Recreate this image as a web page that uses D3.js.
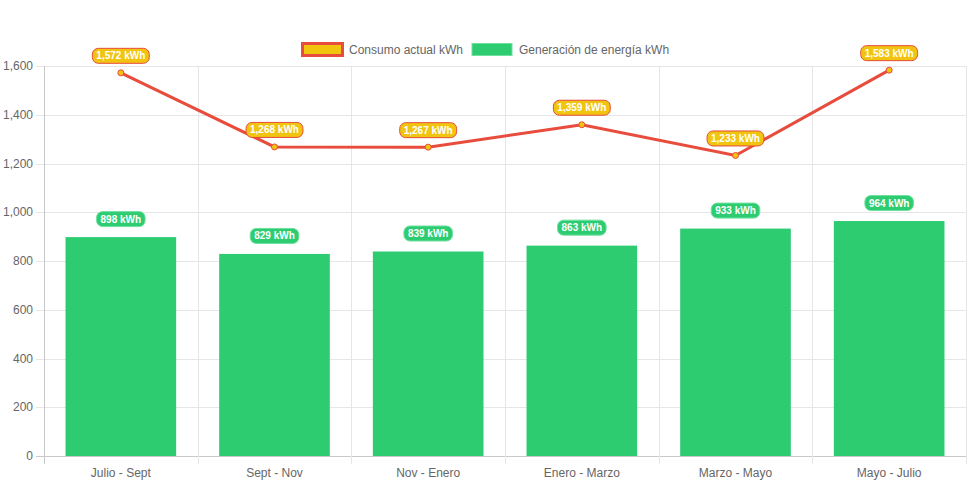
<!DOCTYPE html>
<html><head><meta charset="utf-8">
<script src="https://cdn.jsdelivr.net/npm/d3@7"></script>
<style>
html,body{margin:0;padding:0;background:#fff;}
svg{display:block;font-family:"Liberation Sans",Arial,Helvetica,sans-serif;}
</style></head>
<body>
<svg id="c" width="971" height="485"></svg>
<script>
const categories = ["Julio - Sept","Sept - Nov","Nov - Enero","Enero - Marzo","Marzo - Mayo","Mayo - Julio"];
const consumo = [1572,1268,1267,1359,1233,1583];
const generacion = [898,829,839,863,933,964];
const yTicks = [0,200,400,600,800,1000,1200,1400,1600];
const seriesNames = ["Consumo actual kWh","Generación de energía kWh"];

(function(){
const svg = d3.select("#c");
const pL = 44, pR = 966, pT = 66, pB = 456;
const x = d3.scaleBand().domain(categories).range([pL,pR]).paddingInner(0).paddingOuter(0);
const y = d3.scaleLinear().domain([0,1600]).range([pB,pT]);
const fmt = d3.format(",");

// grid
const g = svg.append("g");
g.selectAll("line.h").data(yTicks).join("line")
  .attr("x1",36).attr("x2",pR).attr("y1",d=>Math.round(y(d))+0.5).attr("y2",d=>Math.round(y(d))+0.5)
  .attr("stroke",d=>d===0?"#c8c8c8":"#e6e6e6").attr("stroke-width",1);
const bounds = categories.map(c=>x(c)).concat([pR]);
g.selectAll("line.v").data(bounds).join("line")
  .attr("x1",d=>Math.round(d)+0.5).attr("x2",d=>Math.round(d)+0.5)
  .attr("y1",pT).attr("y2",pB+8)
  .attr("stroke",(d,i)=>i===0?"#c8c8c8":"#e6e6e6").attr("stroke-width",1);

// y labels
g.selectAll("text.yl").data(yTicks).join("text")
  .attr("x",33).attr("y",d=>y(d)).attr("dy","0.35em").attr("text-anchor","end")
  .attr("font-size",12).attr("fill","#666").text(d=>fmt(d));
// x labels
g.selectAll("text.xl").data(categories).join("text")
  .attr("x",d=>x(d)+x.bandwidth()/2).attr("y",477).attr("text-anchor","middle")
  .attr("font-size",12).attr("fill","#666").text(d=>d);

// bars
const bw = x.bandwidth()*0.72;
svg.append("g").selectAll("rect").data(generacion).join("rect")
  .attr("x",(d,i)=>x(categories[i])+x.bandwidth()/2-bw/2)
  .attr("y",d=>y(d)).attr("width",bw).attr("height",d=>y(0)-y(d))
  .attr("fill","#2ecc71");

// line
const cx = i=>x(categories[i])+x.bandwidth()/2;
svg.append("path").datum(consumo)
  .attr("d",d3.line().x((d,i)=>cx(i)).y(d=>y(d)))
  .attr("fill","none").attr("stroke","#e74c3c").attr("stroke-width",3);
svg.append("g").selectAll("circle").data(consumo).join("circle")
  .attr("cx",(d,i)=>cx(i)).attr("cy",d=>y(d)).attr("r",3)
  .attr("fill","#f1c40f").attr("stroke","#e74c3c").attr("stroke-width",1);

// labels
function label(xc, yc, txt, bg, border){
  const lg = svg.append("g");
  const t = lg.append("text").attr("x",xc).attr("y",yc).attr("dy","0.35em")
    .attr("text-anchor","middle").attr("font-size",10).attr("font-weight","bold")
    .attr("fill","#fff").text(txt);
  const w = t.node().getComputedTextLength();
  lg.insert("rect","text").attr("x",xc-w/2-4).attr("y",yc-7.5).attr("width",w+8).attr("height",15)
    .attr("rx",6).attr("fill",bg).attr("stroke",border).attr("stroke-width",1);
}
generacion.forEach((d,i)=>label(cx(i), y(d)-18, fmt(d)+" kWh", "#2ecc71", "#6ee0a0"));
consumo.forEach((d,i)=>label(cx(i), y(d)-17, fmt(d)+" kWh", "#f1c40f", "#e74c3c"));

// legend
const leg = svg.append("g");
leg.append("rect").attr("x",302.5).attr("y",43.5).attr("width",40).attr("height",12)
  .attr("fill","#f1c40f").attr("stroke","#e74c3c").attr("stroke-width",3);
leg.append("text").attr("x",349).attr("y",49.5).attr("dy","0.35em").attr("font-size",12).attr("fill","#666").text(seriesNames[0]);
leg.append("rect").attr("x",472).attr("y",43.5).attr("width",40).attr("height",12)
  .attr("fill","#2ecc71").attr("stroke","#6ee0a0").attr("stroke-width",1);
leg.append("text").attr("x",519).attr("y",49.5).attr("dy","0.35em").attr("font-size",12).attr("fill","#666").text(seriesNames[1]);
})();
</script>
</body></html>
